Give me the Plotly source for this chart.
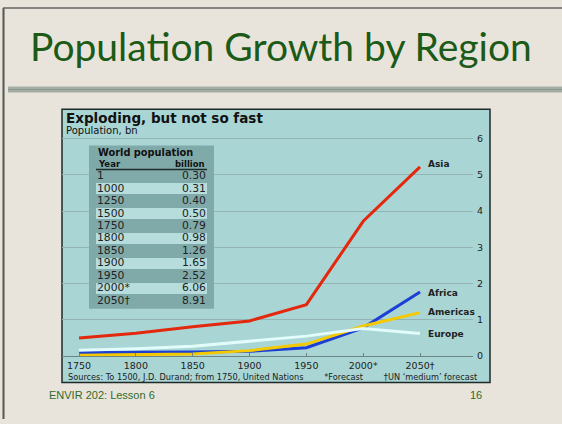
import plotly.graph_objects as go

# ---- data ----
years_x = [1750, 1800, 1850, 1900, 1950, 2000, 2050]
x_tick_text = ["1750", "1800", "1850", "1900", "1950", "2000*", "2050†"]
asia = [0.50, 0.63, 0.81, 0.97, 1.42, 3.72, 5.22]
africa = [0.10, 0.10, 0.11, 0.13, 0.23, 0.78, 1.77]
americas = [0.02, 0.03, 0.06, 0.15, 0.33, 0.83, 1.20]
europe = [0.16, 0.20, 0.27, 0.41, 0.55, 0.76, 0.62]
region_names = ["Asia", "Africa", "Americas", "Europe"]
label_y = [5.30, 1.75, 1.22, 0.62]
y_ticks = [0, 1, 2, 3, 4, 5, 6]

table_year = ["1", "1000", "1250", "1500", "1750", "1800", "1850", "1900", "1950", "2000*", "2050†"]
table_billion = ["0.30", "0.31", "0.40", "0.50", "0.79", "0.98", "1.26", "1.65", "2.52", "6.06", "8.91"]

W, H = 562, 424
def px(x): return x / W
def py(y): return (H - y) / H

BG = "#e9e4db"
PANEL = "#a9d5d5"
TBL_DARK = "#80aaa9"
TBL_LIGHT = "#b6dcdc"
FONT = "DejaVu Sans"

colors = ["#e4280e", "#1c3fd6", "#f5c900", "#e2fbfb"]
series = [asia, africa, americas, europe]

fig = go.Figure()
for name, vals, col in zip(region_names, series, colors):
    fig.add_trace(go.Scatter(x=years_x, y=vals, mode="lines", name=name,
                             line=dict(color=col, width=3), showlegend=False,
                             hoverinfo="skip"))

# ---- inset table drawn on its own (hidden) axes: x in table pixels, y = row index ----
n = len(table_year)
TBL_W = 125
rows = list(range(n))
light_rows = [i for i in rows if i % 2 == 1]
fig.add_trace(go.Bar(orientation="h", y=rows, x=[TBL_W] * n, base=0, width=1.0,
                     marker=dict(color=TBL_DARK, line=dict(width=0)),
                     xaxis="x2", yaxis="y2", showlegend=False, hoverinfo="skip"))
fig.add_trace(go.Bar(orientation="h", y=light_rows, x=[TBL_W - 14] * len(light_rows), base=7,
                     width=0.86, marker=dict(color=TBL_LIGHT, line=dict(width=0)),
                     xaxis="x2", yaxis="y2", showlegend=False, hoverinfo="skip"))
fig.add_trace(go.Scatter(x=[8] * n, y=rows, text=table_year, mode="text",
                         textposition="middle right", cliponaxis=False,
                         textfont=dict(family=FONT, size=10.8, color="#222"),
                         xaxis="x2", yaxis="y2", showlegend=False, hoverinfo="skip"))
fig.add_trace(go.Scatter(x=[TBL_W - 8] * n, y=rows, text=table_billion, mode="text",
                         textposition="middle left", cliponaxis=False,
                         textfont=dict(family=FONT, size=10.8, color="#222"),
                         xaxis="x2", yaxis="y2", showlegend=False, hoverinfo="skip"))

sp = "&nbsp;" * 8
annotations = [
    dict(x=px(281), y=py(45), xref="paper", yref="paper", text="Population Growth by Region",
         showarrow=False, xanchor="center", yanchor="middle",
         font=dict(family="Lato", size=39, color="#1b5a17")),
    dict(x=px(64), y=py(117.5), xref="paper", yref="paper", text="<b>Exploding, but not so fast</b>",
         showarrow=False, xanchor="left", yanchor="middle",
         font=dict(family=FONT, size=13.5, color="#111")),
    dict(x=px(64), y=py(130.5), xref="paper", yref="paper", text="Population, bn",
         showarrow=False, xanchor="left", yanchor="middle",
         font=dict(family=FONT, size=10, color="#111")),
    dict(x=px(96), y=py(153.5), xref="paper", yref="paper", text="<b>World population</b>",
         showarrow=False, xanchor="left", yanchor="middle",
         font=dict(family=FONT, size=9.8, color="#111")),
    dict(x=px(96), y=py(164.5), xref="paper", yref="paper", text="<b>Year</b>",
         showarrow=False, xanchor="left", yanchor="middle",
         font=dict(family=FONT, size=8.5, color="#111")),
    dict(x=px(207), y=py(164.5), xref="paper", yref="paper", text="<b>billion</b>",
         showarrow=False, xanchor="right", yanchor="middle",
         font=dict(family=FONT, size=8.5, color="#111")),
    dict(x=px(66), y=py(381), xref="paper", yref="paper",
         text="Sources: To 1500, J.D. Durand; from 1750, United Nations" + sp + "*Forecast" + sp + "†UN ‘medium’ forecast",
         showarrow=False, xanchor="left", yanchor="middle",
         font=dict(family=FONT, size=8.2, color="#222")),
    dict(x=px(47), y=py(400), xref="paper", yref="paper", text="ENVIR 202: Lesson 6",
         showarrow=False, xanchor="left", yanchor="middle",
         font=dict(family="Liberation Sans", size=11, color="#2f6b2a")),
    dict(x=px(484), y=py(400), xref="paper", yref="paper", text="16",
         showarrow=False, xanchor="right", yanchor="middle",
         font=dict(family="Liberation Sans", size=11, color="#2f6b2a")),
]
for name, yv in zip(region_names, label_y):
    annotations.append(dict(x=2055, y=yv, xref="x", yref="y", text="<b>%s</b>" % name,
                            showarrow=False, xanchor="left", yanchor="middle",
                            font=dict(family=FONT, size=9, color="#222")))

shapes = [
    # slide frame
    dict(type="line", xref="paper", yref="paper", x0=px(3.5), x1=px(3.5), y0=py(6), y1=py(424),
         line=dict(color="#555", width=2), layer="below"),
    dict(type="line", xref="paper", yref="paper", x0=px(3), x1=px(562), y0=py(6), y1=py(6),
         line=dict(color="#666", width=1.5), layer="below"),
    # divider bar
    dict(type="rect", xref="paper", yref="paper", x0=px(8), x1=px(562), y0=py(92), y1=py(86),
         fillcolor="#a4ada5", line=dict(width=0), layer="below"),
    dict(type="line", xref="paper", yref="paper", x0=px(8), x1=px(562), y0=py(89), y1=py(89),
         line=dict(color="#8c978e", width=1), layer="below"),
    # chart panel
    dict(type="rect", xref="paper", yref="paper", x0=px(62), x1=px(490), y0=py(387), y1=py(109),
         fillcolor=PANEL, line=dict(color="#1e2a2a", width=1.5), layer="below"),
    # table background (header area and bottom margin)
    dict(type="rect", xref="paper", yref="paper", x0=px(89), x1=px(214), y0=py(312), y1=py(146),
         fillcolor=TBL_DARK, line=dict(width=0), layer="below"),
    # header underline
    dict(type="line", xref="paper", yref="paper", x0=px(96), x1=px(207), y0=py(170.3), y1=py(170.3),
         line=dict(color="#1e2a2a", width=1.3), layer="above"),
]

fig.update_layout(
    width=W, height=H, margin=dict(l=0, r=0, t=0, b=0),
    paper_bgcolor=BG, plot_bgcolor="rgba(0,0,0,0)",
    barmode="overlay", bargap=0,
    shapes=shapes, annotations=annotations,
    xaxis=dict(domain=[px(62), px(473)], range=[1735.0, 2096.6],
               tickvals=years_x, ticktext=x_tick_text, showgrid=False, zeroline=False,
               ticks="inside", ticklen=3, tickcolor="#6f8585", ticklabelstandoff=2,
               showline=False, fixedrange=True,
               tickfont=dict(family=FONT, size=9.5, color="#222")),
    yaxis=dict(domain=[py(360), py(135.3)], range=[0, 6.1], side="right",
               tickvals=y_ticks, showgrid=True, gridcolor="#92b4b4", gridwidth=1,
               zeroline=True, zerolinecolor="#6f8585", zerolinewidth=1.2,
               ticks="", ticklabelstandoff=3, fixedrange=True,
               tickfont=dict(family=FONT, size=9.5, color="#222")),
    xaxis2=dict(domain=[px(89), px(214)], range=[0, TBL_W], visible=False,
                anchor="y2", fixedrange=True),
    yaxis2=dict(domain=[py(310.5), py(171)], range=[n - 0.5, -0.5], visible=False,
                anchor="x2", fixedrange=True),
)

fig.write_html("out.html", config={"displayModeBar": False},
               post_script="document.body.style.margin='0';document.body.style.padding='0';")
